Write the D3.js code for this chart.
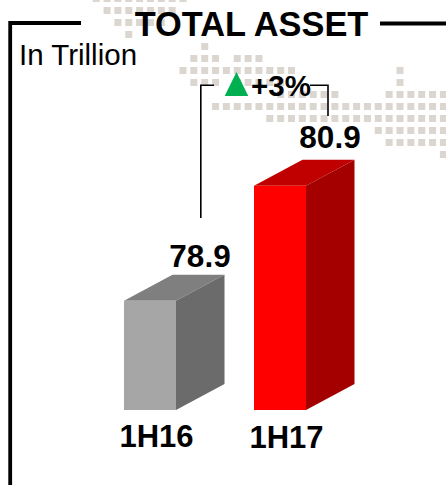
<!DOCTYPE html>
<html>
<head>
<meta charset="utf-8">
<script src="https://cdn.jsdelivr.net/npm/d3@7"></script>
<style>
html,body{margin:0;padding:0;background:#fff;overflow:hidden}
svg{display:block}
text{font-family:"Liberation Sans",Arial,sans-serif;fill:#000}
</style>
</head>
<body>
<svg id="c" width="446" height="485"></svg>
<script>
const categories = ["1H16", "1H17"];
const values = [78.9, 80.9];
const title = "TOTAL ASSET";
const unitLabel = "In Trillion";
const growthLabel = "+3%";
// background dotted world map: [row, first column, last column]
const mapRuns = [
  [0,-8,0],[1,-7,-1],[2,-6,-2],[3,-5,-5],[4,2,2],
  [5,1,3],[5,5,7],[6,0,10],[6,20,20],[7,1,3],[7,5,9],[7,20,20],
  [8,9,14],[8,19,24],[9,3,24],[10,8,24],[11,18,24],[12,19,24],[13,24,24]
];

const svg = d3.select("#c");
const W = 446, H = 485;

// map
const col = d3.scaleLinear().domain([0, 24]).range([183, 443.4]);
const row = d3.scaleLinear().domain([0, 13]).range([-1.5, 154.5]);
const mapCells = mapRuns.flatMap(([r, a, b]) => d3.range(a, b + 1).map(c => ({r, c})));
const defs = svg.append("defs");
defs.append("filter").attr("id", "soft").append("feGaussianBlur").attr("stdDeviation", 0.55);
svg.append("g").attr("filter", "url(#soft)").selectAll("rect").data(mapCells).join("rect")
  .attr("x", d => col(d.c) - 3.5).attr("y", d => row(d.r) - 3.5)
  .attr("width", 7).attr("height", 7).attr("fill", "#dbd6d0");

// frame
svg.append("path")
  .attr("d", d3.line()([[81, 23], [10.2, 23], [10.2, H]]))
  .attr("fill", "none").attr("stroke", "#000").attr("stroke-width", 3.8);
svg.append("path")
  .attr("d", d3.line()([[380, 23.5], [W, 23.5]]))
  .attr("fill", "none").attr("stroke", "#000").attr("stroke-width", 3.8);

// scales
const x = d3.scaleBand().domain(categories).range([124, 306]).paddingInner(0.6).paddingOuter(0);
const y = d3.scaleLinear().domain([77, 81]).range([410, 180]);
const depthX = 48.5, depthY = 26;
const barFills = [
  {front: "#a6a6a6", top: "#7f7f7f", side: "#6b6b6b"},
  {front: "#ff0000", top: "#c00000", side: "#a50000"}
];
const line = d3.line();
const bars = svg.append("g").selectAll("g").data(categories).join("g");
bars.each(function (cat, i) {
  const g = d3.select(this);
  const x0 = x(cat), x1 = x0 + x.bandwidth(), yt = y(values[i]), yb = y(77);
  g.append("path").attr("fill", barFills[i].top)
    .attr("d", line([[x0, yt], [x0 + depthX, yt - depthY], [x1 + depthX, yt - depthY], [x1, yt]]) + "Z");
  g.append("path").attr("fill", barFills[i].side)
    .attr("d", line([[x1, yt], [x1 + depthX, yt - depthY], [x1 + depthX, yb - depthY], [x1, yb]]) + "Z");
  g.append("rect").attr("fill", barFills[i].front)
    .attr("x", x0).attr("y", yt).attr("width", x.bandwidth()).attr("height", yb - yt);
});

// connector
const conn = svg.append("g").attr("fill", "none").attr("stroke", "#000").attr("stroke-width", 1.6);
conn.append("path").attr("d", line([[200.8, 218], [200.8, 85.2], [214, 85.2]]));
conn.append("path").attr("d", line([[310, 85.2], [328, 85.2], [328, 116]]));
svg.append("path").attr("fill", "#00b050")
  .attr("d", line([[236.5, 72], [248.3, 96], [224.7, 96]]) + "Z");

// text
const label = (t, px, py, size, weight, anchor) => svg.append("text")
  .attr("x", px).attr("y", py).attr("font-size", size)
  .attr("font-weight", weight).attr("text-anchor", anchor).text(t);

label(title, 251.5, 36, 34.4, 700, "middle");
label(unitLabel, 19, 65, 29.5, 400, "start");
label(growthLabel, 251, 96, 29.5, 700, "start");
values.forEach((v, i) => {
  const cx = x(categories[i]) + x.bandwidth() / 2;
  const yt = y(v);
  label(d3.format(".1f")(v), cx + 50, yt - (i ? 38 : 34), 31.5, 700, "middle");
  label(categories[i], cx + 6.5, 447 + i, 31, 700, "middle");
});
</script>
</body>
</html>
